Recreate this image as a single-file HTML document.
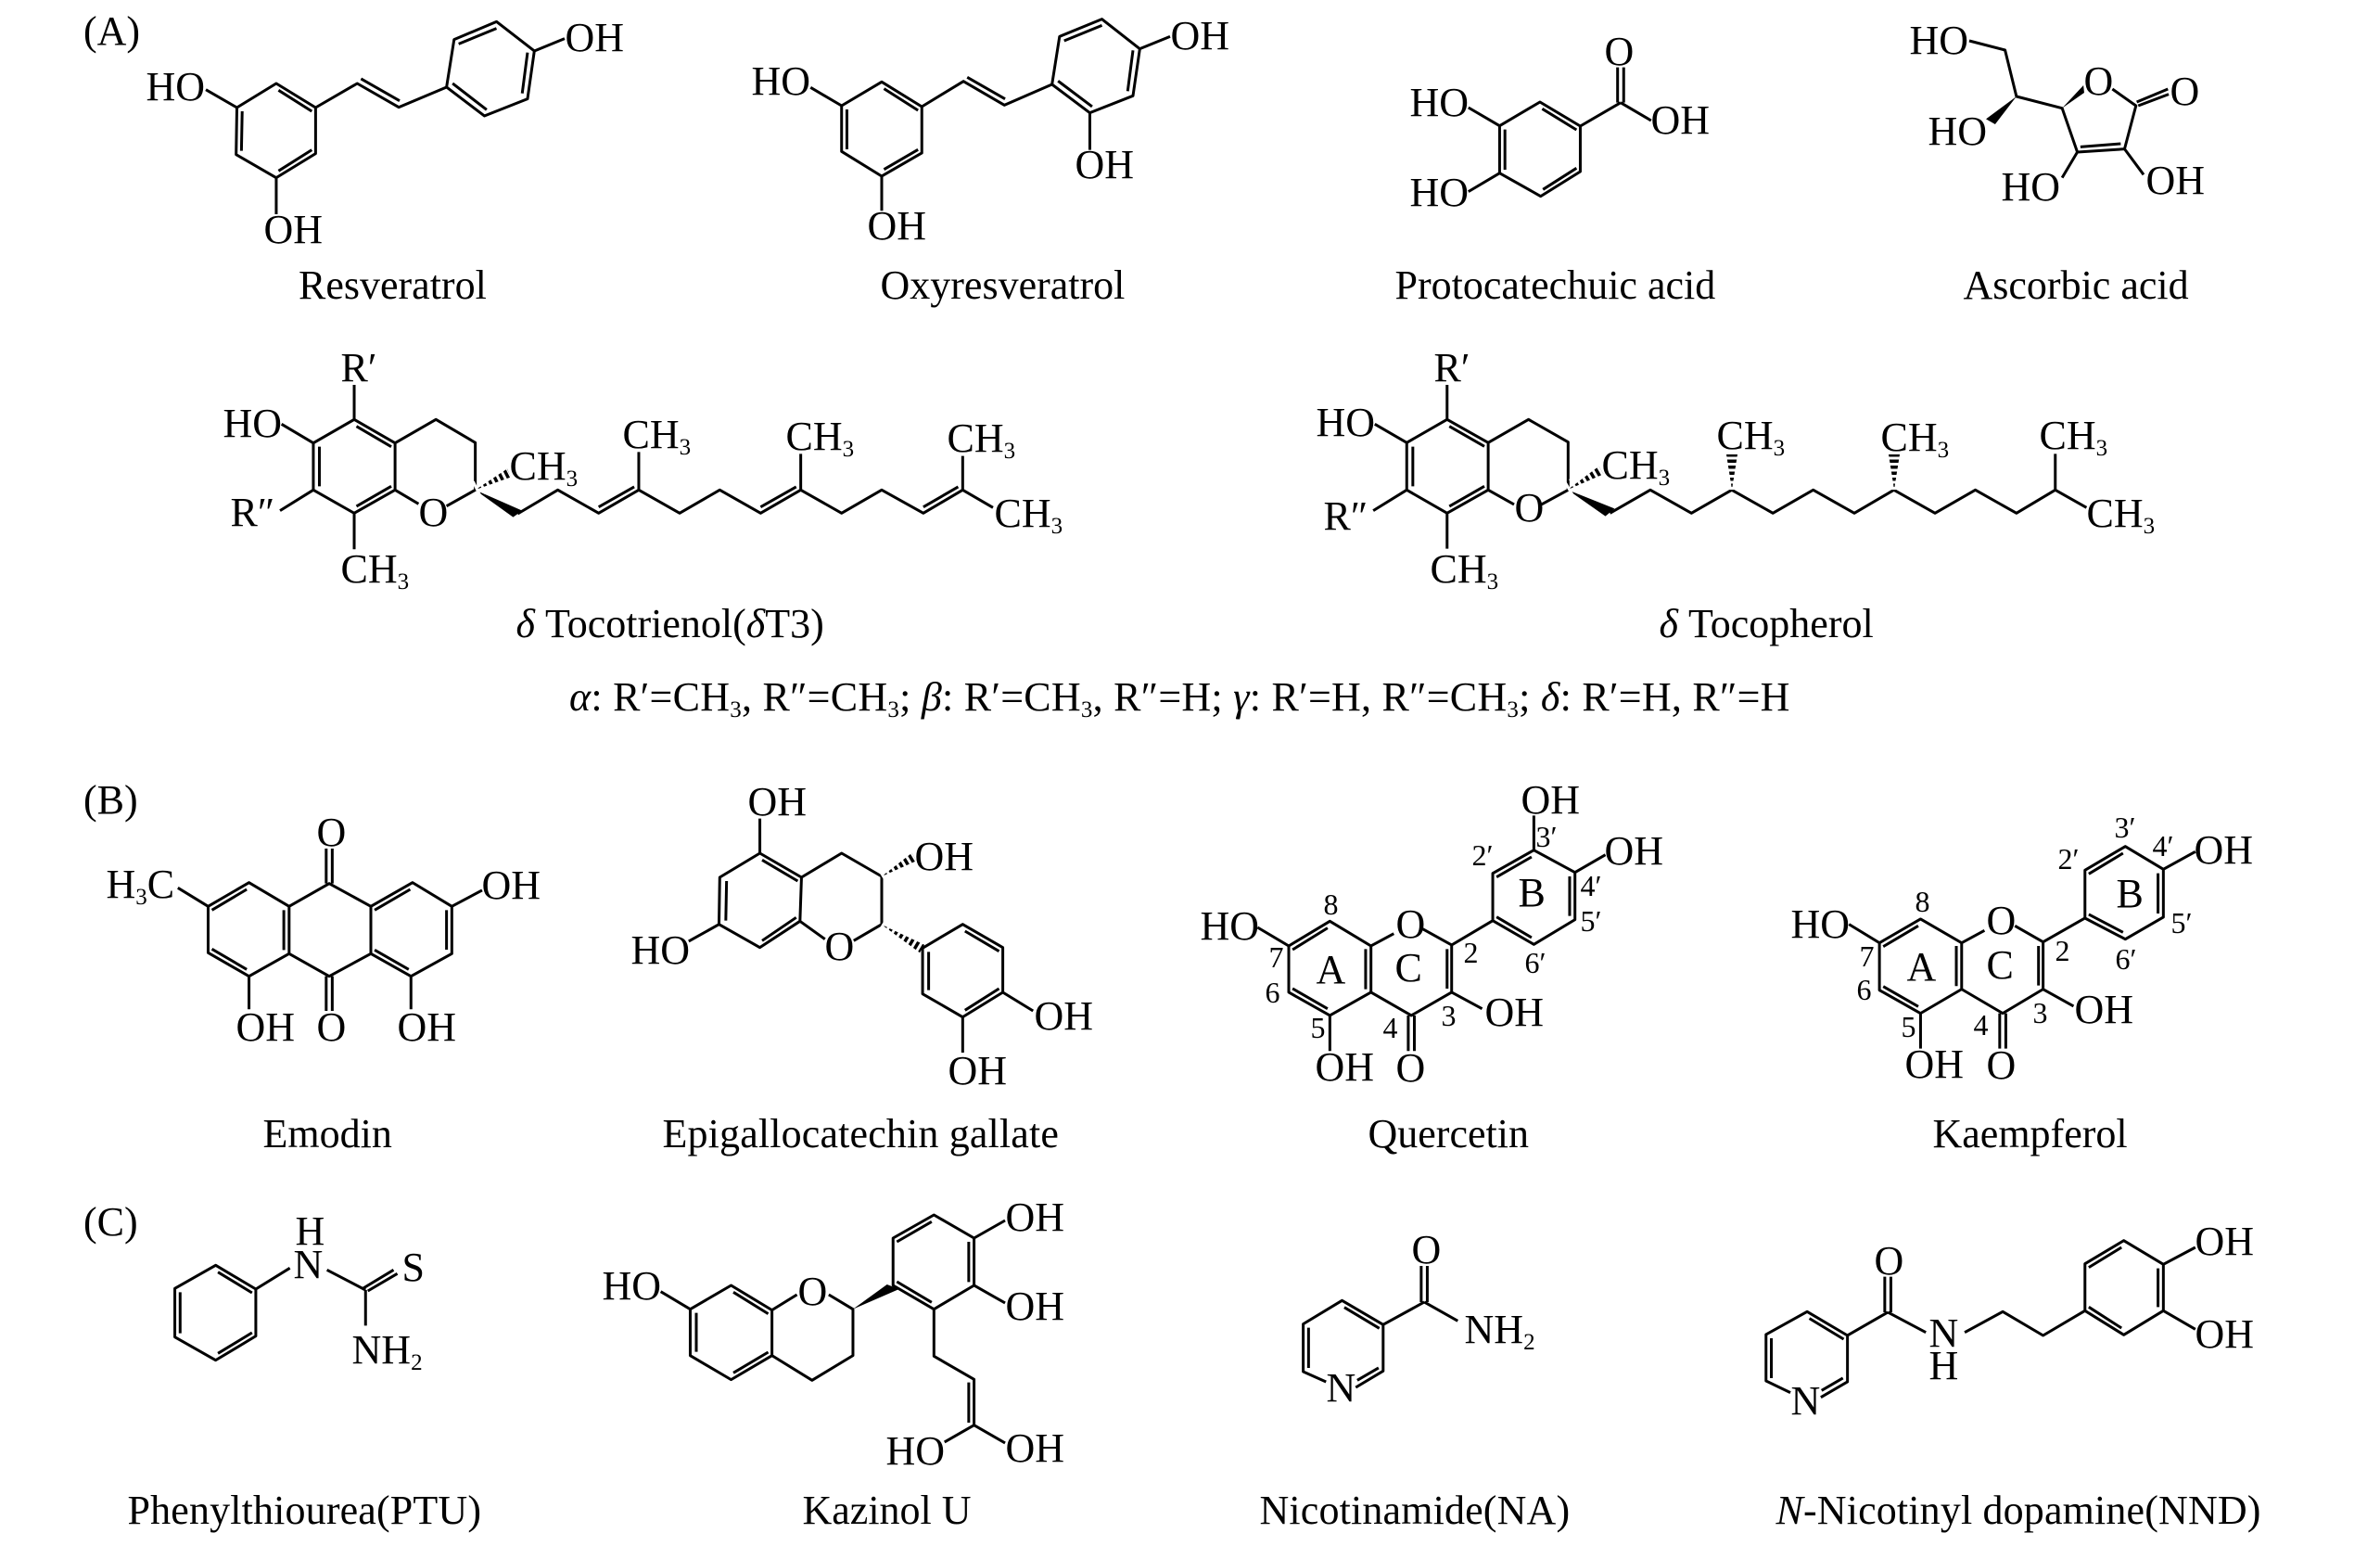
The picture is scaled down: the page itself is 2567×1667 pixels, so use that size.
<!DOCTYPE html>
<html lang="en"><head><meta charset="utf-8"><title>Chemical structures</title>
<style>
html,body{margin:0;padding:0;background:#fff}
svg{display:block}
path.b{fill:none;stroke:#000;stroke-width:3;vector-effect:non-scaling-stroke;stroke-linejoin:round}
path.w,polygon{fill:#000;stroke:none}
line.h{stroke:#fff;stroke-width:18;stroke-dasharray:3 3.5}
text{font-family:"Liberation Serif",serif;font-size:44px;fill:#000}
.s{font-size:25px}
.n{font-size:32px}
.i{font-style:italic}
.w1{letter-spacing:.15px}
</style></head><body>
<svg xmlns="http://www.w3.org/2000/svg" width="2567" height="1667" viewBox="0 0 2567 1667">
<rect width="2567" height="1667" fill="#fff"/>
<!-- crop 1 -->
<g transform="matrix(.8163 0 0 .3333 0 0)">
<path class="b" d="M365 270L417 348L417 497L365 575L312 500L313 348ZM368 292L412 360M368 553L412 485M320 360L319 488M313 348L272 290M365 575L365 693M417 348L472 270L527 347L590 282M477 255L528 326M590 282L600 128L656 70L706 165L697 320L640 375ZM606 142L656 92M697 170L690 302M598 270L643 355M706 165L746 125"/>
<path class="b" d="M1165 265L1218 345L1218 495L1165 570L1112 490L1112 342ZM1168 287L1213 357M1168 548L1213 484M1119 354L1119 483M1112 342L1071 283M1165 570L1165 682M1218 345L1273 263L1327 340L1390 273M1278 250L1328 320M1390 273L1400 118L1456 62L1506 158L1497 310L1440 365ZM1406 132L1456 82M1497 163L1490 295M1398 262L1443 345M1506 158L1546 118M1440 365L1440 485"/>
</g>
<!-- crop 2 -->
<g transform="matrix(.821 0 0 .3333 1280 0)">
<path class="b" d="M464 330L517 408L517 555L465 635L411 560L411 407ZM467 352L512 420M468 613L512 544M418 419L418 549M411 407L370 348M411 560L370 620M517 408L570 332M566 332L566 218M574 332L574 218M570 332L610 390"/>
<path class="b" d="M1028 132L1075 162L1090 312L1150 350L1170 492L1232 482L1247 342L1216 288M1174 475L1227 465M1248 330L1289 288M1250 342L1290 305M1170 492L1150 575M1232 482L1257 565"/>
<polygon points="1090,312 1050,385 1062,402"/>
<polygon points="1150,350 1178,276 1179,300"/>
</g>
<!-- crop 3 -->
<g transform="matrix(.8163 0 0 .3333 0 340)">
<path class="b" d="M468 337L522 413L522 565L468 640L414 565L414 413ZM471 359L517 425M471 618L517 553M422 425L422 553M522 413L576 337L628 412L628 565L590 617M522 565L553 610M468 337L468 225M414 413L372 352M414 565L370 632M468 640L468 757M684 642L737 565L791 640L844 565L898 640L951 565L1005 640L1058 565L1112 640L1165 565L1220 640L1272 565L1312 622M791 620L838 555M1005 620L1052 555M1220 620L1266 555M844 565L844 442M1058 565L1058 448M1272 565L1272 455"/>
<polygon points="628,565 690,632 678,653"/>
</g>
<polygon points="513,528 551,514.5 547,505.5"/><line class="h" x1="513" y1="528" x2="549" y2="510"/>
<!-- crop 4 -->
<g transform="matrix(.821 0 0 .3333 1280 340)">
<path class="b" d="M342 337L396 412L396 565L342 640L289 565L289 412ZM345 359L391 424M345 618L391 553M297 425L297 553M396 412L449 337L501 410L501 565L466 612M396 565L430 612M342 337L342 225M289 412L247 352M289 565L245 632M342 640L342 755M556 640L609 565L663 640L716 565L770 640L823 565L877 640L929 565L983 640L1036 565L1090 640L1141 565L1182 622M1141 565L1141 448"/>
<polygon points="501,565 562,625 550,650"/>
</g>
<polygon points="1691,528 1729.5,511.3 1724.5,502.7"/><line class="h" x1="1691" y1="528" x2="1727" y2="507"/>
<polygon points="1868,528 1862,490 1874,490"/><line class="h" x1="1868" y1="528" x2="1868" y2="490"/>
<polygon points="2043,528 2037,490 2049,490"/><line class="h" x1="2043" y1="528" x2="2043" y2="490"/>
<!-- crop 5 -->
<g transform="matrix(.8163 0 0 .3333 0 820)">
<path class="b" d="M329 395L382 472L382 625L329 698L275 622L275 472ZM382 472L435 398L490 472L490 625L435 698L382 625M490 472L545 395L597 472L597 625L543 698L490 625M326 417L280 484M375 484L375 613M326 676L280 610M542 417L495 484M590 484L590 612M540 676L495 613M431 398L431 285M439 398L439 285M431 698L431 810M439 698L439 810M275 472L235 412M597 472L637 420M329 698L329 805M543 698L543 805"/>
<path class="b" d="M1004 300L1059 378L1057 520L1004 605L950 530L951 378ZM1007 322L1054 390M1007 583L1052 508M960 390L959 518M1059 378L1112 300L1165 375L1165 530L1128 583M1057 520L1090 578M1004 300L1004 188M950 530L910 585M1272 530L1325 605L1325 750L1272 830L1219 755L1219 607ZM1275 552L1320 617M1275 808L1320 738M1227 619L1227 743M1325 750L1365 810M1272 830L1272 945"/>
</g>
<polygon points="951,945 988.5,928.3 983.5,919.7"/><line class="h" x1="951" y1="945" x2="986" y2="924"/>
<polygon points="951,997 997,1018.7 992,1027.3"/><line class="h" x1="951" y1="997" x2="994.5" y2="1023"/>
<!-- crop 6 -->
<g transform="matrix(.821 0 0 .3333 1280 820)">
<path class="b" d="M188 520L242 600L242 750L188 825L134 750L134 600ZM185 542L139 612M185 803L139 738M235 610L235 740M242 600L272 560M310 545L348 597L348 750L295 825L242 750M342 610L342 738M291 825L291 940M299 825L299 940M188 825L188 940M348 750L388 803M134 600L93 540M348 597L402 518L402 365L456 290L510 362L510 515L456 595L402 518M453 312L407 377M503 375L503 503M453 573L407 506M456 290L456 178M510 362L550 305"/>
<path class="b" d="M964 513L1018 590L1018 740L964 818L910 743L910 590ZM961 535L915 602M961 796L915 731M1011 600L1011 730M1018 590L1048 550M1088 535L1125 587L1125 740L1072 818L1018 740M1119 600L1119 728M1068 818L1068 932M1076 818L1076 932M964 818L964 932M1125 740L1165 795M910 590L870 530M1125 587L1180 510L1180 355L1233 278L1283 352L1283 507L1233 578L1180 510M1230 300L1185 367M1276 365L1276 495M1230 556L1185 498M1283 352L1325 295"/>
</g>
<!-- crop 7 -->
<g transform="matrix(.8163 0 0 .3333 0 1270)">
<path class="b" d="M285 283L338 360L338 512L285 590L231 515L231 358ZM288 305L333 372M288 568L333 501M238 370L238 503M338 360L383 292M432 298L483 363M478 360L520 298M486 366L525 310M483 363L483 478"/>
<path class="b" d="M966 348L1020 428L1020 575L966 653L912 575L912 425ZM969 370L1015 440M969 631L1015 564M920 437L920 563M1020 428L1053 378M1095 378L1127 425L1127 575L1073 655L1020 575M912 425L873 368M1180 348L1180 195L1234 120L1287 195L1287 348L1234 425ZM1231 142L1185 207M1280 207L1280 337M1231 403L1185 336M1287 195L1328 138M1287 348L1328 405M1234 425L1234 577L1287 652L1287 800M1280 662L1280 792M1287 800L1248 855M1287 800L1328 858"/>
<polygon points="1127,425 1172,345 1188,360"/>
</g>
<!-- crop 8 -->
<g transform="matrix(.821 0 0 .3333 1280 1270)">
<path class="b" d="M222 678L258 625L258 475L204 397L153 473L153 627L183 660M207 419L253 487M252 615L224 655M160 485L160 615M258 475L312 402M308 402L308 285M316 402L316 285M312 402L356 463"/>
<path class="b" d="M833 710L868 660L868 510L815 433L761 507L761 657L793 695M818 455L863 522M862 648L834 688M768 519L768 648M868 510L921 435M917 435L917 320M925 435L925 320M921 435L971 500M1022 500L1072 433L1125 510L1180 430L1180 278L1231 203L1283 280L1283 430L1231 508L1180 430M1228 225L1185 290M1276 293L1276 418M1228 486L1185 418M1283 280L1325 225M1283 430L1325 490"/>
</g>

<g transform="translate(-1.5 0)">
<!-- labels A -->
<text x="91.5" y="48">(A)</text>
<text x="159" y="108">HO</text><text x="611" y="55">OH</text><text x="286" y="262">OH</text>
<text x="323.5" y="322">Resveratrol</text>
<text x="812" y="102">HO</text><text x="937" y="258">OH</text><text x="1161" y="192">OH</text><text x="1264" y="53">OH</text>
<text x="951" y="322">Oxyresveratrol</text>
<text x="1732" y="70">O</text><text x="1522" y="125">HO</text><text x="1522" y="222">HO</text><text x="1782" y="144">OH</text>
<text x="1506" y="322">Protocatechuic acid</text>
<text x="2061" y="58">HO</text><text x="2249" y="102">O</text><text x="2342" y="113">O</text><text x="2081" y="156">HO</text><text x="2160" y="216">HO</text><text x="2316" y="209">OH</text>
<text x="2119" y="322">Ascorbic acid</text>

<text x="369" y="411">R′</text><text x="242" y="471">HO</text><text x="250" y="567">R″</text>
<text x="369" y="628">CH<tspan class="s" dy="7">3</tspan></text>
<text x="453" y="567">O</text>
<text x="551" y="517">CH<tspan class="s" dy="7">3</tspan></text>
<text x="673" y="483">CH<tspan class="s" dy="7">3</tspan></text>
<text x="849" y="485">CH<tspan class="s" dy="7">3</tspan></text>
<text x="1023" y="487">CH<tspan class="s" dy="7">3</tspan></text>
<text x="1074" y="568">CH<tspan class="s" dy="7">3</tspan></text>
<text x="558" y="687"><tspan class="i">δ</tspan> Tocotrienol(<tspan class="i">δ</tspan>T3)</text>

<text x="1548" y="411">R′</text><text x="1421" y="470">HO</text><text x="1429" y="571">R″</text>
<text x="1544" y="628">CH<tspan class="s" dy="7">3</tspan></text>
<text x="1635" y="562">O</text>
<text x="1729" y="516">CH<tspan class="s" dy="7">3</tspan></text>
<text x="1853" y="484">CH<tspan class="s" dy="7">3</tspan></text>
<text x="2030" y="486">CH<tspan class="s" dy="7">3</tspan></text>
<text x="2201" y="484">CH<tspan class="s" dy="7">3</tspan></text>
<text x="2252" y="568">CH<tspan class="s" dy="7">3</tspan></text>
<text x="1791" y="687"><tspan class="i">δ</tspan> Tocopherol</text>

<text x="615.5" y="766" style="letter-spacing:.25px"><tspan class="i">α</tspan>: R′=CH<tspan class="s" dy="7">3</tspan><tspan dy="-7">, R″=CH</tspan><tspan class="s" dy="7">3</tspan><tspan dy="-7">; </tspan><tspan class="i">β</tspan>: R′=CH<tspan class="s" dy="7">3</tspan><tspan dy="-7">, R″=H; </tspan><tspan class="i">γ</tspan>: R′=H, R″=CH<tspan class="s" dy="7">3</tspan><tspan dy="-7">; </tspan><tspan class="i">δ</tspan>: R′=H, R″=H</text>

<!-- labels B -->
<text x="91.5" y="877">(B)</text>
<text x="343" y="912">O</text>
<text x="116" y="968">H<tspan class="s" dy="7">3</tspan><tspan dy="-7">C</tspan></text>
<text x="521" y="969">OH</text><text x="256" y="1122">OH</text><text x="430" y="1122">OH</text><text x="343" y="1122">O</text>
<text x="285" y="1237">Emodin</text>
<text x="808" y="879">OH</text><text x="988" y="938">OH</text><text x="682" y="1039">HO</text><text x="891" y="1035">O</text><text x="1117" y="1110">OH</text><text x="1024" y="1169">OH</text>
<text class="w1" x="716" y="1237">Epigallocatechin gallate</text>

<text x="1507" y="1166">O</text><text x="1420" y="1165">OH</text><text x="1603" y="1106">OH</text><text x="1296" y="1013">HO</text><text x="1507" y="1011">O</text><text x="1642" y="877">OH</text><text x="1732" y="932">OH</text>
<text class="n" x="1429" y="986">8</text><text class="n" x="1370" y="1043">7</text><text class="n" x="1366" y="1081">6</text><text class="n" x="1415" y="1119">5</text><text class="n" x="1493" y="1119">4</text><text class="n" x="1556" y="1106">3</text><text class="n" x="1580" y="1038">2</text>
<text class="n" x="1589" y="933">2′</text><text class="n" x="1658" y="913">3′</text><text class="n" x="1706" y="966">4′</text><text class="n" x="1706" y="1004">5′</text><text class="n" x="1646" y="1049">6′</text>
<text x="1421" y="1060">A</text><text x="1506" y="1058">C</text><text x="1639" y="977">B</text>
<text x="1477" y="1237">Quercetin</text>

<text x="2144" y="1163">O</text><text x="2056" y="1162">OH</text><text x="2239" y="1103">OH</text><text x="1933" y="1011">HO</text><text x="2144" y="1007">O</text><text x="2368" y="931">OH</text>
<text class="n" x="2067" y="983">8</text><text class="n" x="2007" y="1042">7</text><text class="n" x="2004" y="1078">6</text><text class="n" x="2052" y="1118">5</text><text class="n" x="2130" y="1116">4</text><text class="n" x="2194" y="1103">3</text><text class="n" x="2218" y="1036">2</text>
<text class="n" x="2221" y="937">2′</text><text class="n" x="2282" y="903">3′</text><text class="n" x="2323" y="923">4′</text><text class="n" x="2343" y="1006">5′</text><text class="n" x="2283" y="1045">6′</text>
<text x="2058" y="1057">A</text><text x="2144" y="1055">C</text><text x="2284" y="978">B</text>
<text x="2086" y="1237">Kaempferol</text>

<!-- labels C -->
<text x="91.5" y="1332">(C)</text>
<text x="318" y="1378">N</text><text x="320" y="1342">H</text><text x="435" y="1381">S</text>
<text x="381" y="1470">NH<tspan class="s" dy="7">2</tspan></text>
<text class="w1" x="139" y="1643">Phenylthiourea(PTU)</text>
<text x="651" y="1401">HO</text><text x="862" y="1407">O</text><text x="1086" y="1327">OH</text><text x="1086" y="1423">OH</text><text x="957" y="1579">HO</text><text x="1086" y="1576">OH</text>
<text x="867" y="1643">Kazinol U</text>
<text x="1524" y="1362">O</text>
<text x="1581" y="1448">NH<tspan class="s" dy="7">2</tspan></text>
<text x="1432" y="1511">N</text>
<text class="w1" x="1360" y="1643">Nicotinamide(NA)</text>
<text x="2023" y="1374">O</text><text x="2082" y="1452">N</text><text x="2082" y="1487">H</text><text x="1933" y="1525">N</text><text x="2369" y="1353">OH</text><text x="2369" y="1453">OH</text>
<text class="w1" x="1917" y="1643"><tspan class="i">N</tspan>-Nicotinyl dopamine(NND)</text>
</g>
</svg>
</body></html>
